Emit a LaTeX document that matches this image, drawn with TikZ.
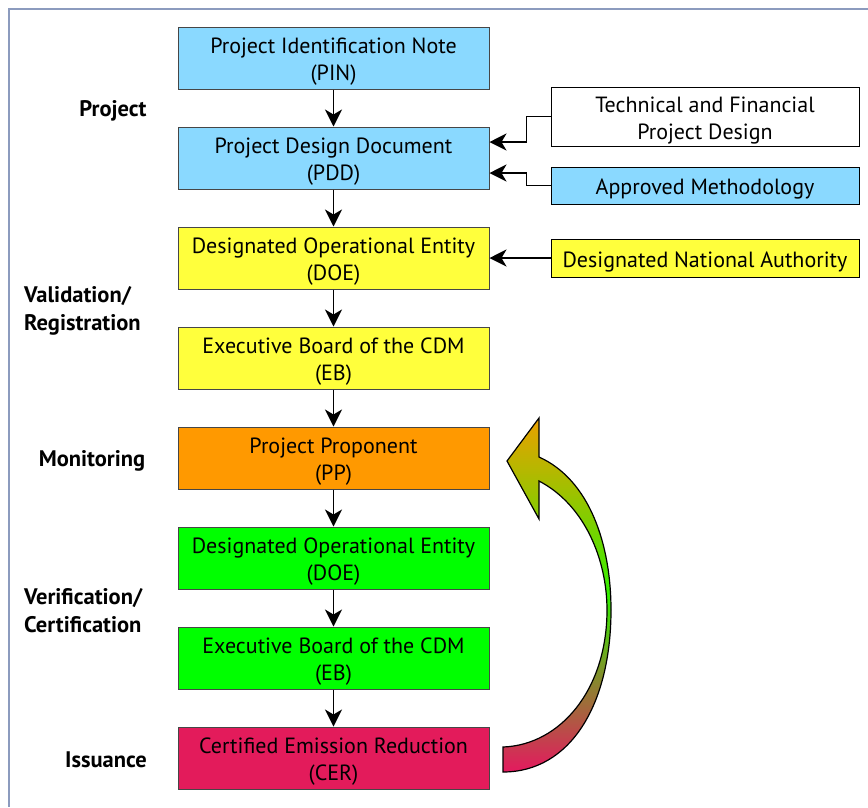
\documentclass[tikz,border=0pt]{standalone}
\usepackage{fontspec}
\setmainfont{PT Sans}
\usetikzlibrary{arrows.meta,positioning}
\definecolor{cblue}{RGB}{138,217,255}
\definecolor{cyel}{RGB}{255,255,60}
\definecolor{corange}{RGB}{255,153,0}
\definecolor{cgreen}{RGB}{0,255,0}
\definecolor{cred}{RGB}{227,27,91}
\definecolor{cframe}{RGB}{140,155,190}
\definecolor{cedge}{RGB}{70,70,70}
\definecolor{gtop}{RGB}{235,160,0}
\definecolor{gmid}{RGB}{50,240,0}
\definecolor{gbot}{RGB}{228,25,95}
\newcommand\upstrut{\rule{0pt}{23pt}}
\tikzset{
  mainbox/.style={draw=cedge, line width=1pt, minimum width=311pt, minimum height=62pt,
    align=center, font=\fontsize{22}{27}\selectfont, inner sep=0pt},
  sidebox/.style={draw=black, line width=1pt, minimum width=308pt,
    align=center, font=\fontsize{22}{27}\selectfont, inner sep=0pt},
  phase/.style={font=\fontsize{22.5}{28}\selectfont\bfseries, align=left, inner sep=0pt},
  arr/.style={line width=1.6pt, -{Stealth[length=17pt,width=17pt,inset=5pt]}}
}
\begin{document}
\begin{tikzpicture}[x=1pt,y=-1pt]
\useasboundingbox (0,0) rectangle (868,807);
\fill[white] (0,0) rectangle (868,807);
\draw[cframe, line width=1.5pt] (868,9) -- (9,9) -- (9,807);

\node[mainbox, fill=cblue]   (pin)  at (333.5,58)  {\upstrut Project Identification Note\\(PIN)};
\node[mainbox, fill=cblue]   (pdd)  at (333.5,158) {\upstrut Project Design Document\\(PDD)};
\node[mainbox, fill=cyel]    (doe)  at (333.5,258) {\upstrut Designated Operational Entity\\(DOE)};
\node[mainbox, fill=cyel]    (eb)   at (333.5,358) {\upstrut Executive Board of the CDM\\(EB)};
\node[mainbox, fill=corange] (pp)   at (333.5,458) {\upstrut Project Proponent\\(PP)};
\node[mainbox, fill=cgreen]  (doe2) at (333.5,558) {\upstrut Designated Operational Entity\\(DOE)};
\node[mainbox, fill=cgreen]  (eb2)  at (333.5,658) {\upstrut Executive Board of the CDM\\(EB)};
\node[mainbox, fill=cred]    (cer)  at (333.5,758) {\upstrut Certified Emission Reduction\\(CER)};

\node[sidebox, fill=white, minimum height=59pt] (tech) at (705,116.5) {\upstrut Technical and Financial\\Project Design};
\node[sidebox, fill=cblue, minimum height=37pt] (meth) at (705,185.5) {\upstrut Approved Methodology};
\node[sidebox, fill=cyel, minimum height=38pt]  (dna)  at (705,258) {\upstrut Designated National Authority};

\node[phase] (lproj) at (113,111) {Project};
\node[phase, anchor=west] (lval) at (24,311) {Validation/\\Registration};
\node[phase] (lmon) at (92,461) {Monitoring};
\node[phase, anchor=west] (lver) at (24,611) {Verification/\\Certification};
\node[phase] (liss) at (106,760) {Issuance};

\draw[arr] (pin) -- (pdd);
\draw[arr] (pdd) -- (doe);
\draw[arr] (doe) -- (eb);
\draw[arr] (eb) -- (pp);
\draw[arr] (pp) -- (doe2);
\draw[arr] (doe2) -- (eb2);
\draw[arr] (eb2) -- (cer);

\draw[arr] (tech.west) -- ++(-24,0) |- ([yshift=16pt]pdd.east);
\draw[arr] (meth.west) -- ++(-24,0) |- ([yshift=-15pt]pdd.east);
\draw[arr] (dna.west) -- (doe.east);

\shade[draw=black, line width=1.2pt, top color=gtop, bottom color=gbot, middle color=gmid]
  (503,747) .. controls (560,745) and (607,690) .. (607,610)
  .. controls (607,560) and (585,505) .. (539,481)
  -- (539,519) -- (507,461) -- (539,418) -- (539,457)
  .. controls (590,480) and (611,545) .. (611,610)
  .. controls (611,705) and (570,772) .. (503,772) -- cycle;
\end{tikzpicture}
\end{document}
